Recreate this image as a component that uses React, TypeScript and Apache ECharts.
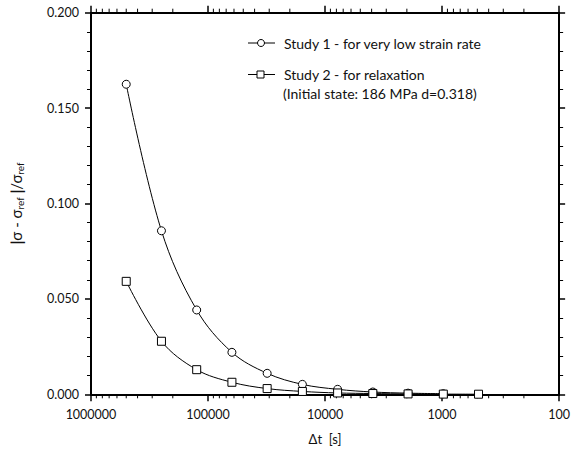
import React, { useEffect, useRef } from "react";
import * as echarts from "echarts";

const dtValues = [500000, 250000, 125000, 62500, 31250, 15625, 7812.5, 3906.25, 1953.125, 976.5625, 488.28125];
const study1 = [0.1625, 0.0857, 0.0442, 0.022, 0.011, 0.0052, 0.0026, 0.0012, 0.0006, 0.0003];
const study2 = [0.0592, 0.0278, 0.0129, 0.0063, 0.003, 0.0015, 0.0007, 0.0004, 0.0002, 0.0001, 0.00005];
const xTickLabels = ["100", "1000", "10000", "100000", "1000000"];
const yTickLabels = ["0.000", "0.050", "0.100", "0.150", "0.200"];
const legendNames = ["Study 1 - for very low strain rate", "Study 2 - for relaxation", "(Initial state: 186 MPa d=0.318)"];

const minorX: number[] = [];
for (let d = 100; d < 1000000; d *= 10) {
  for (let k = 2; k <= 9; k++) minorX.push(d * k);
}

const FONT = "Lato";

export default function App() {
  const ref = useRef<HTMLDivElement>(null);
  useEffect(() => {
    if (!ref.current) return;
    const chart = echarts.init(ref.current, undefined, { renderer: "svg" });
    const gridLeft = 86.7;
    const gridTop = 12.7;
    const baseX = {
      type: "log" as const,
      logBase: 10,
      inverse: true,
      min: 100,
      max: 1000000,
      splitLine: { show: false },
      axisLine: { show: true, onZero: false, lineStyle: { color: "#000", width: 2 } },
      axisTick: { show: true, inside: false, length: 7, lineStyle: { color: "#000", width: 1.5 } },
    };
    const baseY = {
      type: "value" as const,
      min: 0,
      max: 0.2,
      interval: 0.05,
      splitLine: { show: false },
      axisLine: { show: true, lineStyle: { color: "#000", width: 2 } },
      axisTick: { show: true, inside: false, length: 6, lineStyle: { color: "#000", width: 1.5 } },
      minorTick: { show: true, splitNumber: 5, length: 4, lineStyle: { color: "#000", width: 1 } },
    };
    chart.setOption({
      animation: false,
      backgroundColor: "#fff",
      grid: { left: gridLeft, right: 11, top: gridTop, bottom: 58.7, containLabel: false },
      xAxis: [
        {
          ...baseX,
          position: "bottom",
          name: "Δt  [s]",
          nameLocation: "middle",
          nameGap: 38,
          nameTextStyle: { fontFamily: FONT, fontSize: 13, color: "#111" },
          axisLabel: {
            margin: 14,
            fontFamily: FONT,
            fontSize: 12.5,
            color: "#111",
            formatter: (v: number) => {
              const s = String(Math.round(v));
              return xTickLabels.includes(s) ? s : "";
            },
          },
        },
        { ...baseX, position: "top", axisLabel: { show: false } },
      ],
      yAxis: [
        {
          ...baseY,
          position: "left",
          name: "{bar||}{t|σ - σ}{sub|ref}{bar| |}{t|/σ}{sub|ref}",
          nameLocation: "middle",
          nameRotate: 90,
          nameGap: 66,
          nameTextStyle: {
            rich: {
              t: { fontFamily: FONT, fontSize: 15, color: "#111" },
              bar: { fontFamily: FONT, fontSize: 15, fontWeight: "bold", color: "#111" },
              sub: { fontFamily: FONT, fontSize: 10, color: "#111", padding: [9, 0, 0, 0] },
            },
          },
          axisLabel: {
            margin: 12,
            fontFamily: FONT,
            fontSize: 12.5,
            color: "#111",
            formatter: (v: number) => yTickLabels[Math.round(v / 0.05)] ?? "",
          },
        },
        { ...baseY, position: "right", axisLabel: { show: false } },
      ],
      series: [
        {
          name: legendNames[0],
          type: "line",
          smooth: 0.35,
          data: study1.map((v, i) => [dtValues[i], v]),
          symbol: "circle",
          symbolSize: 8,
          itemStyle: { color: "#fff", borderColor: "#000", borderWidth: 1 },
          lineStyle: { color: "#000", width: 1 },
          z: 3,
        },
        {
          name: legendNames[1],
          type: "line",
          smooth: 0.35,
          data: study2.map((v, i) => [dtValues[i], v]),
          symbol: "rect",
          symbolSize: 8,
          itemStyle: { color: "#fff", borderColor: "#000", borderWidth: 1 },
          lineStyle: { color: "#000", width: 1 },
          z: 3,
        },
        {
          type: "custom",
          silent: true,
          clip: false,
          data: minorX.map((v) => [v, 0]),
          renderItem: (params: any, api: any) => {
            const pt = api.coord([api.value(0), 0]);
            const cs = params.coordSys;
            const yb = cs.y + cs.height;
            const yt = cs.y;
            return {
              type: "group",
              children: [
                { type: "line", shape: { x1: pt[0], y1: yb, x2: pt[0], y2: yb + 4 }, style: { stroke: "#000", lineWidth: 1 } },
                { type: "line", shape: { x1: pt[0], y1: yt, x2: pt[0], y2: yt - 4 }, style: { stroke: "#000", lineWidth: 1 } },
              ],
            };
          },
          z: 1,
        },
      ],
      graphic: [
        { type: "line", shape: { x1: 248, y1: 43, x2: 275, y2: 43 }, style: { stroke: "#000", lineWidth: 1 } },
        { type: "circle", shape: { cx: 261, cy: 43, r: 3.5 }, style: { fill: "#fff", stroke: "#000", lineWidth: 1 } },
        { type: "text", x: 284, y: 43, style: { text: legendNames[0], font: `14px ${FONT}`, fill: "#111", textVerticalAlign: "middle" } },
        { type: "line", shape: { x1: 248, y1: 74.5, x2: 275, y2: 74.5 }, style: { stroke: "#000", lineWidth: 1 } },
        { type: "rect", shape: { x: 257, y: 71, width: 7, height: 7 }, style: { fill: "#fff", stroke: "#000", lineWidth: 1 } },
        { type: "text", x: 284, y: 74.5, style: { text: legendNames[1], font: `14px ${FONT}`, fill: "#111", textVerticalAlign: "middle" } },
        { type: "text", x: 283, y: 93, style: { text: legendNames[2], font: `14px ${FONT}`, fill: "#111", textVerticalAlign: "middle" } },
      ],
    });
    return () => chart.dispose();
  }, []);
  return <div ref={ref} style={{ width: 573, height: 453, position: "absolute", left: 0, top: 0 }} />;
}
